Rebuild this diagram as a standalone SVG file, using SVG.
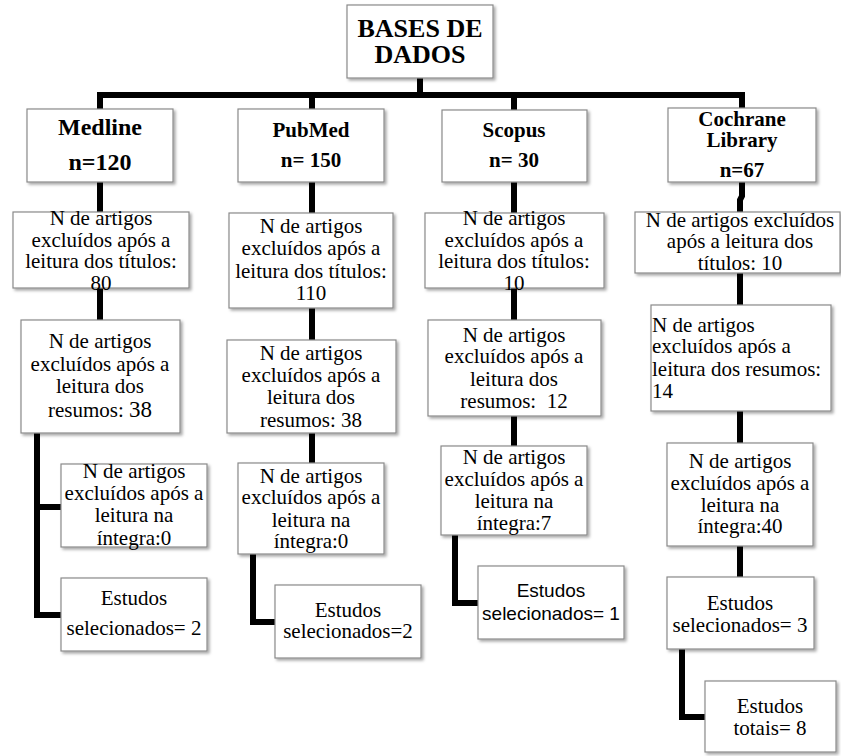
<svg xmlns="http://www.w3.org/2000/svg" width="841" height="756" viewBox="0 0 841 756">
<defs>
<filter id="sh" x="-10%" y="-10%" width="130%" height="130%">
<feDropShadow dx="2" dy="2" stdDeviation="1.5" flood-color="#000" flood-opacity="0.35"/>
</filter>
<style>
.box{fill:#fff;stroke:#8a8a8a;stroke-width:1.2;filter:url(#sh)}
.t{font-family:'Liberation Serif','Times New Roman',serif;font-size:21px;fill:#000;text-anchor:middle}
.b{font-family:'Liberation Serif','Times New Roman',serif;font-size:21px;font-weight:bold;fill:#000;text-anchor:middle}
.m{font-size:24px}
.r{font-size:26px}
.s{font-family:'Liberation Sans',Arial,sans-serif;font-size:19px;fill:#000;text-anchor:middle}
.l{text-anchor:start}
.c{fill:none;stroke:#000;stroke-width:6;stroke-linejoin:miter}
</style>
</defs>
<rect width="841" height="756" fill="#fff"/>
<g id="connectors">
<path class="c" d="M420,78 V95"/>
<path class="c" d="M100,110 V95 H742 V109"/>
<path class="c" d="M312,95 V110"/>
<path class="c" d="M514,95 V111"/>
<path class="c" d="M100,182 V213"/>
<path class="c" d="M100,288 V321"/>
<path class="c" d="M37,433 V615 H62"/>
<path class="c" d="M37,507 H62"/>
<path class="c" d="M312,182 V214"/>
<path class="c" d="M312,308 V341"/>
<path class="c" d="M312,433 V464"/>
<path class="c" d="M253,554 V622 H276"/>
<path class="c" d="M514,182 V214"/>
<path class="c" d="M514,288 V321"/>
<path class="c" d="M514,416 V447"/>
<path class="c" d="M455,535 V603 H479"/>
<path class="c" d="M742,182 V196 L740,200 V213"/>
<path class="c" d="M740,273 V306"/>
<path class="c" d="M740,411 V444"/>
<path class="c" d="M740,546 V578"/>
<path class="c" d="M682,649 V717 H706"/>
</g>
<g id="root">
<rect class="box" x="347" y="5" width="146" height="73"/>
<text class="b r" x="420" y="37">BASES DE</text>
<text class="b r" x="420" y="63">DADOS</text>
</g>
<g id="medline">
<rect class="box" x="27" y="109" width="146" height="73"/>
<text class="b m" x="100" y="135">Medline</text>
<text class="b m" x="100" y="170">n=120</text>
</g>
<g id="pubmed">
<rect class="box" x="238" y="109" width="146" height="73"/>
<text class="b" x="311" y="137">PubMed</text>
<text class="b" x="311" y="167">n= 150</text>
</g>
<g id="scopus">
<rect class="box" x="442" y="110" width="145" height="72"/>
<text class="b" x="514" y="137">Scopus</text>
<text class="b" x="514" y="167">n= 30</text>
</g>
<g id="cochrane">
<rect class="box" x="668" y="108" width="148" height="74"/>
<text class="b" x="742" y="126">Cochrane</text>
<text class="b" x="742" y="147">Library</text>
<text class="b" x="742" y="177">n=67</text>
</g>
<g id="medline-titulos">
<rect class="box" x="13" y="212" width="176" height="76"/>
<text class="t" x="101" y="225">N de artigos</text>
<text class="t" x="101" y="247">excluídos após a</text>
<text class="t" x="101" y="268">leitura dos títulos:</text>
<text class="t" x="101" y="290">80</text>
</g>
<g id="pubmed-titulos">
<rect class="box" x="229" y="213" width="164" height="95"/>
<text class="t" x="311" y="233">N de artigos</text>
<text class="t" x="311" y="255">excluídos após a</text>
<text class="t" x="311" y="278">leitura dos títulos:</text>
<text class="t" x="311" y="300">110</text>
</g>
<g id="scopus-titulos">
<rect class="box" x="425" y="213" width="179" height="75"/>
<text class="t" x="514" y="225">N de artigos</text>
<text class="t" x="514" y="247">excluídos após a</text>
<text class="t" x="514" y="268">leitura dos títulos:</text>
<text class="t" x="514" y="290">10</text>
</g>
<g id="cochrane-titulos">
<rect class="box" x="635" y="212" width="205" height="61"/>
<text class="t" x="740" y="227">N de artigos excluídos</text>
<text class="t" x="740" y="248">após a leitura dos</text>
<text class="t" x="740" y="270">títulos: 10</text>
</g>
<g id="medline-resumos">
<rect class="box" x="21" y="320" width="159" height="113"/>
<text class="t" x="100" y="348">N de artigos</text>
<text class="t" x="100" y="371">excluídos após a</text>
<text class="t" x="100" y="393">leitura dos</text>
<text class="t" x="100" y="417">resumos: <tspan font-size="23">38</tspan></text>
</g>
<g id="pubmed-resumos">
<rect class="box" x="227" y="340" width="169" height="93"/>
<text class="t" x="311" y="360">N de artigos</text>
<text class="t" x="311" y="382">excluídos após a</text>
<text class="t" x="311" y="404">leitura dos</text>
<text class="t" x="311" y="427">resumos: 38</text>
</g>
<g id="scopus-resumos">
<rect class="box" x="428" y="320" width="173" height="96"/>
<text class="t" x="514" y="342">N de artigos</text>
<text class="t" x="514" y="363">excluídos após a</text>
<text class="t" x="514" y="386">leitura dos</text>
<text class="t" x="514" y="408" xml:space="preserve">resumos:  12</text>
</g>
<g id="cochrane-resumos">
<rect class="box" x="651" y="305" width="180" height="106"/>
<text class="t l" x="652" y="332">N de artigos</text>
<text class="t l" x="652" y="353">excluídos após a</text>
<text class="t l" x="652" y="376">leitura dos resumos:</text>
<text class="t l" x="652" y="398">14</text>
</g>
<g id="medline-integra">
<rect class="box" x="61" y="464" width="146" height="83"/>
<text class="t" x="134" y="478">N de artigos</text>
<text class="t" x="134" y="500">excluídos após a</text>
<text class="t" x="134" y="522">leitura na</text>
<text class="t" x="134" y="545">íntegra:0</text>
</g>
<g id="pubmed-integra">
<rect class="box" x="238" y="463" width="146" height="91"/>
<text class="t" x="311" y="483">N de artigos</text>
<text class="t" x="311" y="504">excluídos após a</text>
<text class="t" x="311" y="527">leitura na</text>
<text class="t" x="311" y="548">íntegra:0</text>
</g>
<g id="scopus-integra">
<rect class="box" x="441" y="446" width="146" height="89"/>
<text class="t" x="514" y="464">N de artigos</text>
<text class="t" x="514" y="486">excluídos após a</text>
<text class="t" x="514" y="508">leitura na</text>
<text class="t" x="514" y="530">íntegra:7</text>
</g>
<g id="cochrane-integra">
<rect class="box" x="667" y="443" width="146" height="103"/>
<text class="t" x="740" y="468">N de artigos</text>
<text class="t" x="740" y="490">excluídos após a</text>
<text class="t" x="740" y="512">leitura na</text>
<text class="t" x="740" y="533">íntegra:40</text>
</g>
<g id="medline-selecionados">
<rect class="box" x="61" y="578" width="146" height="73"/>
<text class="t" x="134" y="605">Estudos</text>
<text class="t" x="134" y="635">selecionados= 2</text>
</g>
<g id="pubmed-selecionados">
<rect class="box" x="275" y="585" width="146" height="73"/>
<text class="t" x="348" y="617">Estudos</text>
<text class="t" x="348" y="638">selecionados=2</text>
</g>
<g id="scopus-selecionados">
<rect class="box" x="478" y="566" width="146" height="73"/>
<text class="s" x="551" y="597">Estudos</text>
<text class="s" x="551" y="620">selecionados= 1</text>
</g>
<g id="cochrane-selecionados">
<rect class="box" x="667" y="577" width="147" height="72"/>
<text class="t" x="740" y="610">Estudos</text>
<text class="t" x="740" y="632">selecionados= 3</text>
</g>
<g id="estudos-totais">
<rect class="box" x="705" y="681" width="131" height="71"/>
<text class="t" x="770" y="713">Estudos</text>
<text class="t" x="770" y="735">totais= 8</text>
</g>
</svg>
